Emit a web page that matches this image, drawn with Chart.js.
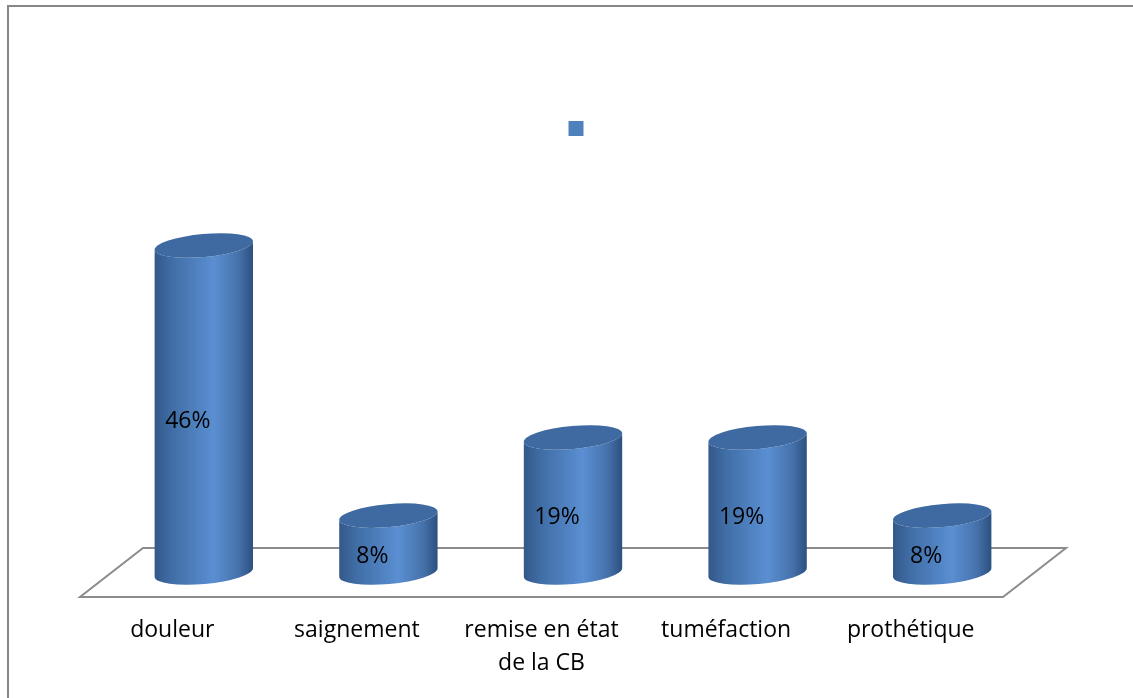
<!DOCTYPE html>
<html>
<head>
<meta charset="utf-8">
<script src="https://cdn.jsdelivr.net/npm/chart.js@4/dist/chart.umd.min.js"></script>
<style>
  html, body { margin: 0; padding: 0; background: #fff; }
  #wrap { position: relative; width: 1133px; height: 698px; }
</style>
</head>
<body>
<div id="wrap"><canvas id="myChart" width="1133" height="698"></canvas></div>
<script>
const categories = ['douleur', 'saignement', ['remise en état', 'de la CB'], 'tuméfaction', 'prothétique'];
const values = [46, 8, 19, 19, 8];
const seriesName = '';

// depth of the fake 3D floor (half of it on each side of the bars)
const depthX = 31.5;
const depthY = 24.5;

const frame = {
  id: 'frame',
  beforeDraw(chart) {
    const ctx = chart.ctx;
    ctx.save();
    ctx.strokeStyle = '#878787';
    ctx.lineWidth = 2;
    ctx.beginPath();
    ctx.moveTo(8, chart.height);
    ctx.lineTo(8, 6);
    ctx.lineTo(chart.width, 6);
    ctx.stroke();
    ctx.restore();
  }
};

const cylinders = {
  id: 'cylinders',
  beforeDatasetsDraw(chart) {
    // floor
    const a = chart.chartArea;
    const base = chart.scales.y.getPixelForValue(0);
    const ctx = chart.ctx;
    ctx.save();
    ctx.strokeStyle = '#8c8c8c';
    ctx.lineWidth = 2;
    ctx.beginPath();
    ctx.moveTo(a.left + depthX, base - depthY);
    ctx.lineTo(a.right + depthX, base - depthY);
    ctx.lineTo(a.right - depthX, base + depthY);
    ctx.lineTo(a.left - depthX, base + depthY);
    ctx.closePath();
    ctx.stroke();
    ctx.restore();
  },
  beforeDatasetDraw(chart, args) {
    const ctx = chart.ctx;
    const data = chart.data.datasets[args.index].data;
    const tilt = -0.09;
    const ry = 11.5;
    ctx.save();
    args.meta.data.forEach((bar, i) => {
      const {x, y, base, width} = bar.getProps(['x', 'y', 'base', 'width'], true);
      const rx = width / 2;
      const cx = Math.cos(tilt) * rx, sy = Math.sin(tilt) * rx;

      const g = ctx.createLinearGradient(x - rx, 0, x + rx, 0);
      g.addColorStop(0, '#33588a');
      g.addColorStop(0.18, '#406ea6');
      g.addColorStop(0.6, '#5a8fd2');
      g.addColorStop(0.85, '#4672ab');
      g.addColorStop(1, '#2c4f7f');

      ctx.beginPath();
      ctx.moveTo(x + cx, y + sy);
      ctx.lineTo(x + cx, base + sy);
      ctx.ellipse(x, base, rx, ry, tilt, 0, Math.PI, false);
      ctx.lineTo(x - cx, y - sy);
      ctx.ellipse(x, y, rx, ry, tilt, Math.PI, 0, true);
      ctx.closePath();
      ctx.fillStyle = g;
      ctx.fill();

      ctx.beginPath();
      ctx.ellipse(x, y, rx, ry, tilt, 0, Math.PI * 2);
      ctx.fillStyle = '#3e6aa1';
      ctx.fill();

      ctx.fillStyle = '#000';
      ctx.font = '23px "Open Sans"';
      ctx.textAlign = 'center';
      ctx.textBaseline = 'middle';
      ctx.fillText(data[i] + '%', x - 16, (y + base) / 2 + 12);
    });
    ctx.restore();
    return false;
  }
};

new Chart(document.getElementById('myChart'), {
  type: 'bar',
  data: {
    labels: categories,
    datasets: [{
      label: seriesName,
      data: values,
      backgroundColor: '#4f81bd',
      categoryPercentage: 1,
      barPercentage: 0.535
    }]
  },
  options: {
    responsive: false,
    animation: false,
    layout: { padding: { left: 111.5, right: 98.5, top: 111, bottom: 0 } },
    plugins: {
      tooltip: { enabled: false },
      legend: {
        position: 'top',
        rtl: true,
        labels: { boxWidth: 15, boxHeight: 15, padding: 10, font: { family: 'Open Sans', size: 12 } }
      }
    },
    scales: {
      x: {
        grid: { display: false, drawTicks: false },
        border: { display: false },
        ticks: {
          color: '#000',
          padding: 41,
          labelOffset: -31.5,
          maxRotation: 0,
          font: { family: 'Open Sans', size: 23, lineHeight: 33 / 23 }
        },
        afterFit(scale) { scale.height = 125.5; }
      },
      y: { display: false, min: 0, max: 60 }
    }
  },
  plugins: [frame, cylinders]
});
</script>
</body>
</html>
